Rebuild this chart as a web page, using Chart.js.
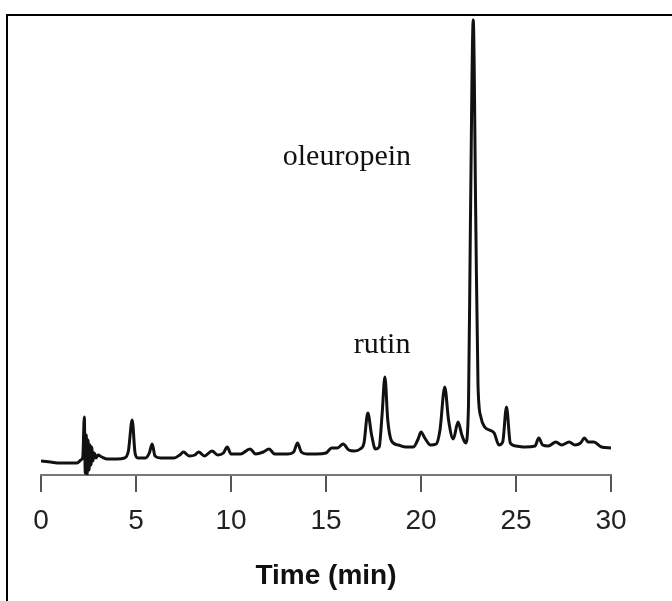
<!DOCTYPE html>
<html>
<head>
<meta charset="utf-8">
<script src="https://cdn.jsdelivr.net/npm/chart.js@4"></script>
<style>
  body { margin: 0; background: #fff; }
  #wrap { position: relative; width: 672px; height: 601px; overflow: hidden; }
  #frame { position: absolute; left: 6px; top: 14px; width: 800px; height: 800px;
           border-top: 2px solid #000; border-left: 2px solid #000; pointer-events: none; }
</style>
</head>
<body>
<div id="wrap">
  <canvas id="chrom" width="672" height="601"></canvas>
  <div id="frame"></div>
</div>
<script>
// retention time (min) and detector signal (arbitrary units)
const times = [
    0.0, 0.5, 1.0, 1.5, 1.9, 2.1, 2.2, 2.28, 2.33, 2.38, 2.43, 2.48, 2.53, 2.58, 2.63, 2.68, 2.73, 2.8, 2.9,
    3.0, 3.2, 3.5, 4.0, 4.4, 4.6, 4.8, 4.95, 5.1, 5.5, 5.7, 5.85, 6.0, 6.3, 7.0, 7.3, 7.5, 7.8, 8.1, 8.3,
    8.6, 9.0, 9.3, 9.6, 9.8, 10.0, 10.5, 11.0, 11.3, 11.7, 12.0, 12.3, 13.0, 13.3, 13.5, 13.7, 14.0, 14.5,
    15.0, 15.3, 15.6, 15.9, 16.2, 16.5, 16.8, 17.0, 17.2, 17.4, 17.6, 17.8, 17.95, 18.1, 18.25, 18.45,
    18.8, 19.2, 19.6, 19.85, 20.0, 20.2, 20.5, 20.8, 21.0, 21.25, 21.45, 21.7, 21.95, 22.15, 22.35, 22.5,
    22.6, 22.75, 22.88, 23.0, 23.15, 23.35, 23.6, 23.85, 24.1, 24.3, 24.5, 24.7, 25.0, 25.5, 26.0, 26.2,
    26.4, 26.7, 27.1, 27.4, 27.8, 28.1, 28.4, 28.6, 28.8, 29.1, 29.5, 30.0
];
const signal = [
    14, 13, 12, 12, 12, 15, 18, 58, 2, 40, 0, 35, 5, 30, 10, 28, 14, 22, 17,
    20, 18, 16, 16, 17, 24, 55, 22, 17, 17, 22, 31, 19, 17, 17, 20, 23, 19, 20, 23,
    19, 24, 20, 22, 28, 21, 21, 26, 21, 23, 26, 21, 21, 23, 32, 23, 21, 21,
    22, 27, 27, 31, 25, 24, 26, 32, 62, 40, 26, 28, 60, 98, 55, 34,
    30, 28, 28, 36, 43, 37, 30, 31, 45, 88, 55, 36, 53, 40, 32, 70,
    250, 455, 260, 90, 58, 48, 45, 42, 30, 33, 68, 32, 29, 28, 29, 37,
    30, 29, 33, 30, 33, 30, 32, 37, 33, 33, 28, 27
];
const xTicks = [0, 5, 10, 15, 20, 25, 30];
const peakNames = ['oleuropein', 'rutin'];
const peakLabelAt = [[16.1, 318], [17.95, 130]];

const points = times.map((t, i) => ({ x: t, y: signal[i] }));

const peakLabels = {
    id: 'peakLabels',
    afterDatasetsDraw(chart) {
        const ctx = chart.ctx;
        const sx = chart.scales.x, sy = chart.scales.y;
        ctx.save();
        ctx.font = '30px "Liberation Serif", "Times New Roman", serif';
        ctx.fillStyle = '#111';
        ctx.textAlign = 'center';
        ctx.textBaseline = 'middle';
        peakNames.forEach((name, i) => {
            ctx.fillText(name, sx.getPixelForValue(peakLabelAt[i][0]), sy.getPixelForValue(peakLabelAt[i][1]));
        });
        ctx.restore();
    }
};

new Chart(document.getElementById('chrom'), {
    type: 'line',
    data: {
        datasets: [{
            data: points,
            borderColor: '#111',
            borderWidth: 3,
            pointRadius: 0,
            cubicInterpolationMode: 'monotone',
            fill: false
        }]
    },
    options: {
        responsive: false,
        animation: false,
        events: [],
        layout: { padding: { top: 15, left: 41, right: 61, bottom: 0 } },
        plugins: { legend: { display: false }, tooltip: { enabled: false } },
        scales: {
            x: {
                type: 'linear',
                min: 0,
                max: 30,
                afterBuildTicks: scale => { scale.ticks = xTicks.map(v => ({ value: v })); },
                afterFit: scale => { scale.height = 126; },
                border: { display: true, color: '#777', width: 2 },
                grid: { drawOnChartArea: false, drawTicks: true, tickLength: 17, color: '#555', lineWidth: 2 },
                ticks: {
                    padding: 12,
                    color: '#222',
                    maxRotation: 0,
                    font: { family: '"Liberation Sans", Arial, sans-serif', size: 28 }
                },
                title: {
                    display: true,
                    text: 'Time (min)',
                    color: '#111',
                    padding: { top: 0, bottom: 8 },
                    font: { family: '"Liberation Sans", Arial, sans-serif', size: 28, weight: 'bold' }
                }
            },
            y: { display: false, min: 0, max: 460 }
        }
    },
    plugins: [peakLabels]
});
</script>
</body>
</html>
